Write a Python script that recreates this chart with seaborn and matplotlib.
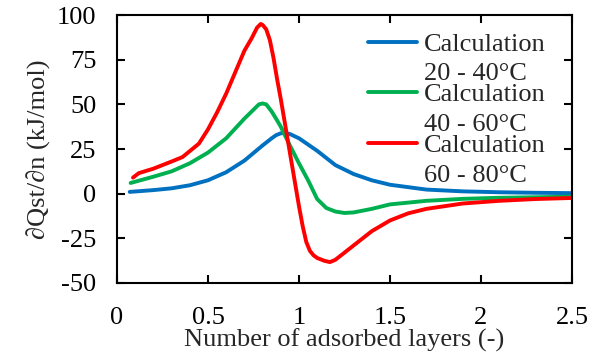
import numpy as np
import pandas as pd
import matplotlib
matplotlib.use("Agg")
import matplotlib.pyplot as plt
import seaborn as sns
from matplotlib.legend_handler import HandlerLine2D

# Data
blue_x = [0.07, 0.2, 0.3, 0.4, 0.5, 0.6, 0.7, 0.8, 0.85, 0.875, 0.9, 0.925, 0.95, 1.0,
          1.1, 1.2, 1.3, 1.4, 1.5, 1.7, 1.9, 2.1, 2.3, 2.5]
blue_y = [1.0, 2.0, 3.0, 4.7, 7.5, 12.0, 18.5, 27.0, 31.0, 32.8, 33.8, 34.0, 33.4, 31.0,
          24.0, 16.0, 11.0, 7.5, 5.0, 2.3, 1.3, 0.8, 0.5, 0.3]

green_x = [0.075, 0.2, 0.3, 0.4, 0.5, 0.6, 0.7, 0.75, 0.78, 0.8, 0.82, 0.85, 0.88, 0.9,
           0.95, 1.0, 1.05, 1.1, 1.15, 1.2, 1.25, 1.3, 1.4, 1.5, 1.7, 1.9, 2.1, 2.3, 2.5]
green_y = [6.0, 9.5, 12.5, 17.0, 23.0, 31.0, 42.0, 47.0, 50.0, 50.5, 50.0, 46.0, 41.0, 37.5,
           27.0, 17.0, 7.5, -3.0, -8.0, -10.0, -10.8, -10.5, -8.5, -6.0, -4.0, -2.9, -2.3, -2.0, -1.7]

red_x = [0.088, 0.12, 0.2, 0.3, 0.36, 0.45, 0.5, 0.55, 0.6, 0.65, 0.7, 0.74, 0.77, 0.79,
         0.8, 0.82, 0.84, 0.86, 0.88, 0.9, 0.92, 0.94, 0.96, 0.98, 1.0, 1.02, 1.04, 1.06,
         1.08, 1.1, 1.14, 1.17, 1.2, 1.25, 1.3, 1.4, 1.5, 1.6, 1.7, 1.9, 2.1, 2.3, 2.5]
red_y = [9.0, 11.5, 14.0, 18.0, 20.5, 28.0, 36.0, 45.5, 56.0, 68.0, 80.0, 87.0, 93.0, 95.0,
         94.5, 92.0, 86.0, 76.0, 64.0, 53.0, 41.0, 29.0, 17.0, 5.0, -7.0, -18.0, -27.0, -32.0,
         -34.5, -36.0, -37.6, -38.3, -37.0, -33.0, -29.0, -21.0, -15.0, -11.0, -8.5, -5.5, -4.0, -3.0, -2.4]

labels = ["Calculation\n20 - 40°C", "Calculation\n40 - 60°C", "Calculation\n60 - 80°C"]
colors = ["#0070C0", "#00B050", "#FF0000"]

df = pd.concat([
    pd.DataFrame({"x": blue_x, "y": blue_y, "series": labels[0]}),
    pd.DataFrame({"x": green_x, "y": green_y, "series": labels[1]}),
    pd.DataFrame({"x": red_x, "y": red_y, "series": labels[2]}),
])

sns.set_style("ticks")
plt.rcParams["font.family"] = ["Liberation Serif", "DejaVu Serif"]
plt.rcParams["axes.unicode_minus"] = False
FS = 19


class TopLine(HandlerLine2D):
    # put the legend line next to the first text line
    def create_artists(self, legend, orig_handle, xdescent, ydescent, width, height, fontsize, trans):
        arts = super().create_artists(legend, orig_handle, xdescent, ydescent, width, height, fontsize, trans)
        for a in arts:
            a.set_ydata(np.asarray(a.get_ydata()) + 0.65 * fontsize)
        return arts


fig = plt.figure(figsize=(5.95, 3.58), dpi=100)
ax = fig.add_axes([0.1966, 0.2095, 0.7647, 0.7485])

sns.lineplot(data=df, x="x", y="y", hue="series", palette=colors, linewidth=2.8,
             sort=False, ax=ax)

ax.set_xlim(0, 2.5)
ax.set_ylim(-50, 100)
ax.set_xticks([0, 0.5, 1, 1.5, 2, 2.5])
ax.set_xticklabels(["0", "0.5", "1", "1.5", "2", "2.5"])
ax.set_yticks([-50, -25, 0, 25, 50, 75, 100])
ax.tick_params(direction="in", length=6, width=1.5, labelsize=FS, pad=17,
               top=True, right=True, colors="black")
ax.tick_params(axis="y", pad=15)
for s in ax.spines.values():
    s.set_linewidth(1.5)
    s.set_color("black")
    s.set_visible(True)

ax.set_xlabel("Number of adsorbed layers (-)", fontsize=FS, labelpad=0)
ax.set_ylabel("∂Qst/∂n (kJ/mol)", fontsize=FS, labelpad=4)

handles, _ = ax.get_legend_handles_labels()
leg = ax.legend(handles, labels, loc="upper left", bbox_to_anchor=(0.541, 0.95), frameon=False,
                fontsize=FS, handlelength=1.85, handletextpad=0.25, labelspacing=-0.04,
                borderaxespad=0.1, borderpad=0.1,
                handler_map={matplotlib.lines.Line2D: TopLine()})
for t in leg.get_texts():
    t.set_linespacing(1.45)

fig.savefig("out.png", dpi=100)
plt.close(fig)
